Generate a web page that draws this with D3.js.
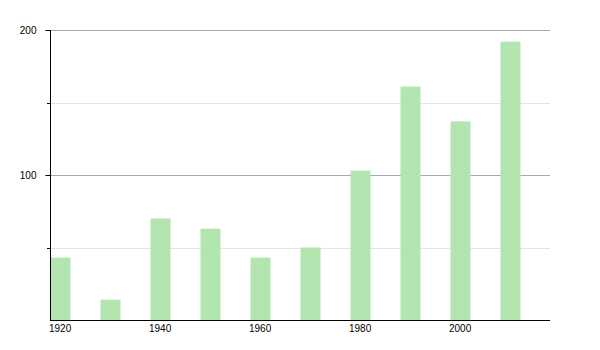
<!DOCTYPE html>
<html><head><meta charset="utf-8">
<script src="https://cdn.jsdelivr.net/npm/d3@7"></script>
<style>body{margin:0;background:#fff}svg{display:block}text{font-family:"Liberation Sans",Arial,sans-serif;font-size:10px;fill:#000}</style>
</head><body>
<script>
const years = [1920,1930,1940,1950,1960,1970,1980,1990,2000,2010];
const values = [43,14,70,63,43,50,103,161,137,192];
const yMajorTicks = [100,200];
const yMinorTicks = [50,150];
const xTicks = [1920,1940,1960,1980,2000];

(function(){
const W=600,H=350, mLeft=50, mRight=550, mTop=30, mBottom=320;
const svg=d3.select("body").append("svg").attr("width",W).attr("height",H);
const x=d3.scaleLinear().domain([1920,2020]).range([mLeft,mRight]);
const y=d3.scaleLinear().domain([0,200]).range([mBottom,mTop]);

svg.selectAll("line.minor").data(yMinorTicks).enter().append("line")
  .attr("x1",mLeft).attr("x2",mRight).attr("y1",d=>Math.round(y(d))+0.5).attr("y2",d=>Math.round(y(d))+0.5)
  .attr("stroke","#e3e3e3");
svg.selectAll("line.major").data(yMajorTicks).enter().append("line")
  .attr("x1",mLeft).attr("x2",mRight).attr("y1",d=>Math.round(y(d))+0.5).attr("y2",d=>Math.round(y(d))+0.5)
  .attr("stroke","#aaaaaa");

svg.selectAll("rect.bar").data(years).enter().append("rect")
  .attr("x",(d)=>x(d)+0.5).attr("width",x(1924)-x(1920))
  .attr("y",(d,i)=>y(values[i])).attr("height",(d,i)=>mBottom-y(values[i]))
  .attr("fill","#b3e5b1");

const yAxis=d3.axisLeft(y).tickValues(yMajorTicks).tickSize(5).tickPadding(9);
const ga=svg.append("g").attr("transform",`translate(${mLeft+0.5},0)`).call(yAxis);
ga.select(".domain").remove();
ga.selectAll("text").style("font-size","10px").attr("font-family","Liberation Sans, Arial, sans-serif").attr("fill","#000");
ga.selectAll("line").attr("stroke","#000");
svg.selectAll("line.minortick").data(yMinorTicks).enter().append("line")
  .attr("x1",mLeft-3).attr("x2",mLeft).attr("y1",d=>Math.round(y(d))+0.5).attr("y2",d=>Math.round(y(d))+0.5)
  .attr("stroke","#000");
svg.append("line").attr("x1",mLeft+0.5).attr("x2",mLeft+0.5).attr("y1",mTop).attr("y2",mBottom+1).attr("stroke","#000");

svg.append("line").attr("x1",mLeft).attr("x2",mRight).attr("y1",mBottom+0.5).attr("y2",mBottom+0.5).attr("stroke","#000");
svg.selectAll("text.xl").data(xTicks).enter().append("text")
  .attr("x",d=>x(d)-1).attr("y",mBottom+12).text(d=>d);
})();
</script>
</body></html>
